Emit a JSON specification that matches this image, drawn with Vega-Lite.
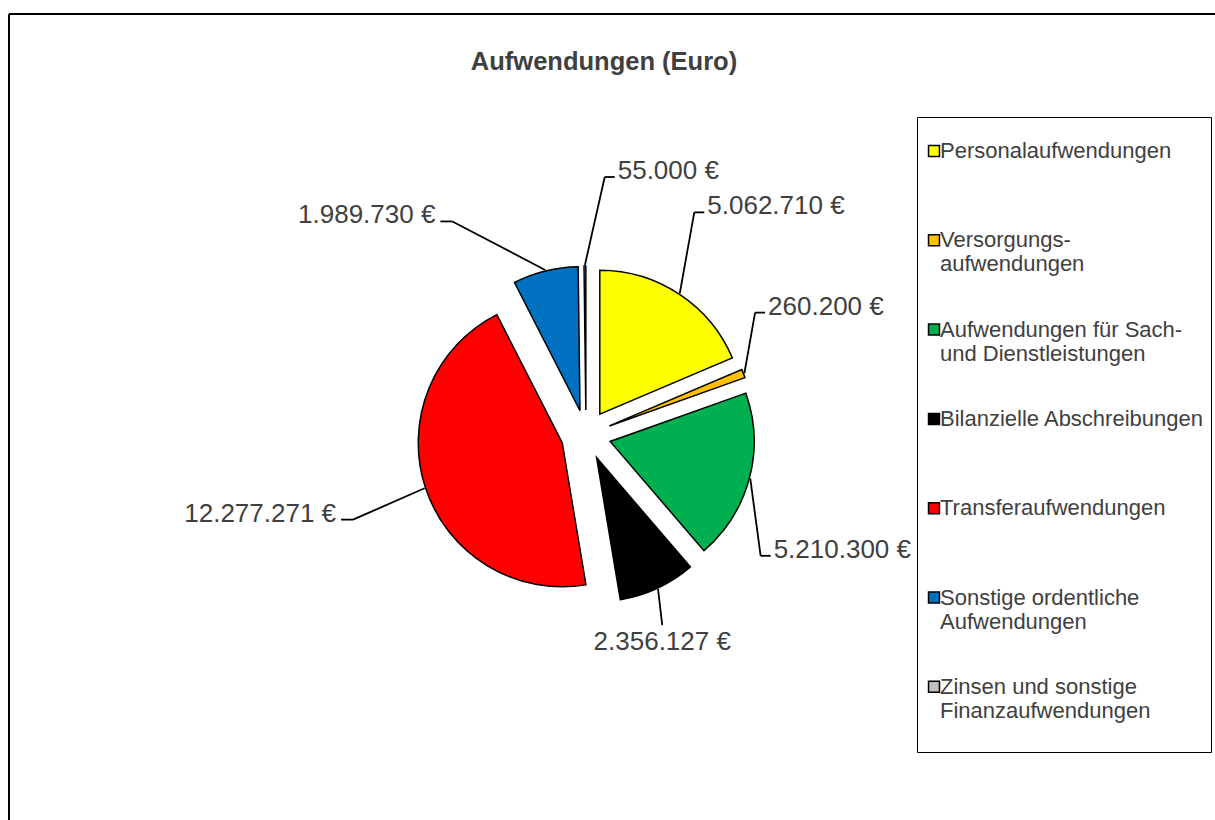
{
  "$schema": "https://vega.github.io/schema/vega-lite/v6.json",
  "width": 1206,
  "height": 806,
  "autosize": {"type": "none"},
  "padding": {"left": 9, "top": 14, "right": 0, "bottom": 0},
  "background": "white",
  "config": {"view": {"stroke": null}, "font": "Liberation Sans"},
  "title": {
    "text": "Aufwendungen (Euro)",
    "anchor": "middle",
    "frame": "group",
    "offset": -62,
    "dx": -8,
    "font": "Liberation Sans",
    "fontSize": 25.5,
    "fontWeight": "bold",
    "color": "#404040"
  },
  "data": {
    "values": [
      {"name": "Personalaufwendungen", "value": 5062710},
      {"name": "Versorgungsaufwendungen", "value": 260200},
      {"name": "Aufwendungen für Sach- und Dienstleistungen", "value": 5210300},
      {"name": "Bilanzielle Abschreibungen", "value": 2356127},
      {"name": "Transferaufwendungen", "value": 12277271},
      {"name": "Sonstige ordentliche Aufwendungen", "value": 1989730},
      {"name": "Zinsen und sonstige Finanzaufwendungen", "value": 55000}
    ]
  },
  "transform": [
    {"joinaggregate": [{"op": "sum", "field": "value", "as": "total"}]},
    {"window": [{"op": "sum", "field": "value", "as": "cum"}], "frame": [null, 0]},
    {"calculate": "(datum.cum - datum.value) / datum.total", "as": "t0"},
    {"calculate": "datum.cum / datum.total", "as": "t1"},
    {"calculate": "2 * PI * (datum.cum - datum.value / 2) / datum.total", "as": "mid"},
    {"calculate": "sin(datum.mid)", "as": "sx"},
    {"calculate": "-cos(datum.mid)", "as": "sy"},
    {"calculate": "25 * datum.sx", "as": "ax"},
    {"calculate": "25 * datum.sy", "as": "ay"},
    {"calculate": "170 * datum.sx", "as": "px"},
    {"calculate": "170 * datum.sy", "as": "py"},
    {"calculate": "datum.sx < -0.05 ? 'l' : (abs(datum.sx) < 0.5 && datum.sy > 0 ? 'b' : 'r')", "as": "side"},
    {"calculate": "datum.side == 'l' ? 240 * datum.sx - 100 * (1 - abs(datum.sx)) : (datum.side == 'r' ? 180 * datum.sx + 20 * (1 - abs(datum.sx)) : 180 * datum.sx)", "as": "ex"},
    {"calculate": "datum.side == 'l' ? (datum.sy < 0 ? 220 * datum.sy : 270 * datum.sy) : (datum.side == 'r' ? (datum.sy < 0 ? 258 * datum.sy - 45 * (1 - abs(datum.sy)) : 210 * datum.sy + 90 * (1 - abs(datum.sy))) : 210 * datum.sy)", "as": "ey"},
    {"calculate": "datum.side == 'l' ? datum.ex - 12 : (datum.side == 'r' ? datum.ex + 10 : datum.ex)", "as": "kx"},
    {"calculate": "datum.side == 'l' ? datum.kx - 5 : (datum.side == 'r' ? datum.kx + 3 : datum.ex)", "as": "tx"},
    {"calculate": "datum.side == 'b' ? datum.ey + 17 : datum.ey - 6", "as": "ty"},
    {"calculate": "replace(format(datum.value, ','), regexp(',', 'g'), '.') + ' €'", "as": "lbl"}
  ],
  "layer": [
    {
      "mark": {"type": "rule", "color": "#000000", "strokeWidth": 1.5},
      "encoding": {"y": {"value": 0}}
    },
    {
      "mark": {"type": "rule", "color": "#000000", "strokeWidth": 1.5},
      "encoding": {"x": {"value": 0}}
    },
    {
      "mark": {"type": "arc", "radius": 144, "stroke": "#000000", "strokeWidth": 1.5},
      "encoding": {
        "x": {"field": "ax", "type": "quantitative", "axis": null, "scale": {"domain": [-577, 629], "nice": false, "zero": false}},
        "y": {"field": "ay", "type": "quantitative", "axis": null, "scale": {"domain": [-421, 385], "nice": false, "zero": false, "reverse": true}},
        "theta": {"field": "t0", "type": "quantitative", "stack": null, "scale": {"domain": [0, 1], "range": [0, 6.283185307179586]}},
        "theta2": {"field": "t1"},
        "color": {
          "field": "name",
          "type": "nominal",
          "sort": null,
          "scale": {
            "domain": ["Personalaufwendungen", "Versorgungsaufwendungen", "Aufwendungen für Sach- und Dienstleistungen", "Bilanzielle Abschreibungen", "Transferaufwendungen", "Sonstige ordentliche Aufwendungen", "Zinsen und sonstige Finanzaufwendungen"],
            "range": ["#FFFF00", "#FFC000", "#00B050", "#000000", "#FF0000", "#0070C0", "#C0C0C0"]
          },
          "legend": {
            "orient": "none",
            "legendX": 908,
            "legendY": 103,
            "direction": "vertical",
            "title": " ",
            "titleFontSize": 12,
            "titlePadding": 5,
            "strokeColor": "#000000",
            "fillColor": "#ffffff",
            "padding": 6,
            "gridAlign": "all",
            "rowPadding": 19.3,
            "symbolType": "square",
            "symbolSize": 120,
            "symbolStrokeColor": "#000000",
            "symbolStrokeWidth": 1.5,
            "symbolOffset": 0,
            "labelOffset": -5,
            "labelFont": "Liberation Sans",
            "labelFontSize": 22,
            "labelColor": "#404040",
            "labelLimit": 400,
            "labelExpr": "datum.label == 'Versorgungsaufwendungen' ? ['Versorgungs-', 'aufwendungen', ''] : datum.label == 'Aufwendungen für Sach- und Dienstleistungen' ? ['Aufwendungen für Sach-', 'und Dienstleistungen', ''] : datum.label == 'Sonstige ordentliche Aufwendungen' ? ['Sonstige ordentliche', 'Aufwendungen', ''] : datum.label == 'Zinsen und sonstige Finanzaufwendungen' ? ['Zinsen und sonstige', 'Finanzaufwendungen', ''] : [datum.label, '', '']"
          }
        }
      }
    },
    {
      "mark": {"type": "rule", "color": "#000000", "strokeWidth": 1.8},
      "encoding": {
        "x": {"field": "px", "type": "quantitative"},
        "y": {"field": "py", "type": "quantitative"},
        "x2": {"field": "ex"},
        "y2": {"field": "ey"}
      }
    },
    {
      "transform": [{"filter": "datum.side != 'b'"}],
      "mark": {"type": "rule", "color": "#000000", "strokeWidth": 1.8},
      "encoding": {
        "x": {"field": "ex", "type": "quantitative"},
        "y": {"field": "ey", "type": "quantitative"},
        "x2": {"field": "kx"},
        "y2": {"field": "ey"}
      }
    },
    {
      "transform": [{"filter": "datum.side == 'r'"}],
      "mark": {"type": "text", "align": "left", "baseline": "middle", "fontSize": 26, "font": "Liberation Sans", "color": "#404040"},
      "encoding": {
        "x": {"field": "tx", "type": "quantitative"},
        "y": {"field": "ty", "type": "quantitative"},
        "text": {"field": "lbl"}
      }
    },
    {
      "transform": [{"filter": "datum.side == 'l'"}],
      "mark": {"type": "text", "align": "right", "baseline": "middle", "fontSize": 26, "font": "Liberation Sans", "color": "#404040"},
      "encoding": {
        "x": {"field": "tx", "type": "quantitative"},
        "y": {"field": "ty", "type": "quantitative"},
        "text": {"field": "lbl"}
      }
    },
    {
      "transform": [{"filter": "datum.side == 'b'"}],
      "mark": {"type": "text", "align": "center", "baseline": "middle", "fontSize": 26, "font": "Liberation Sans", "color": "#404040"},
      "encoding": {
        "x": {"field": "tx", "type": "quantitative"},
        "y": {"field": "ty", "type": "quantitative"},
        "text": {"field": "lbl"}
      }
    }
  ]
}
